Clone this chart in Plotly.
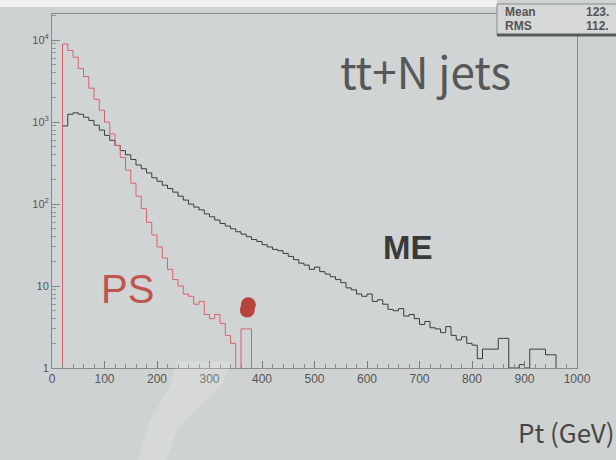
import plotly.graph_objects as go

# ---------------- data ----------------
bin_edges = list(range(0, 1010, 10))  # 10 GeV bins, 0..1000

me_counts = [
    0, 0, 900, 1250, 1300, 1250, 1150, 1050, 920, 800,
    690, 600, 520, 450, 400, 350, 300, 270, 240, 210,
    190, 170, 155, 140, 125, 112, 100, 92, 85, 76,
    70, 64, 58, 54, 50, 46, 43, 40, 37, 35,
    32, 30, 28, 27, 25, 23, 21, 19, 18, 16,
    17, 15, 14, 13, 12, 11, 9.5, 9, 8, 7.5,
    8, 6.5, 6.8, 6, 5.2, 5, 5.3, 4.3, 4.5, 4,
    3.4, 3.7, 3.1, 3.0, 2.7, 3.2, 2.5, 2.2, 2.4, 2.0,
    1.9, 1.3, 1.7, 1.7, 1.7, 2.3, 2.3, 1.0, 1.0, 1.1,
    1.0, 1.7, 1.7, 1.7, 1.45, 1.45, 0, 0, 0, 0,
]

ps_counts = [
    0, 0, 9000, 7500, 6200, 4500, 3600, 2600, 1900, 1400,
    1000, 720, 520, 370, 260, 180, 125, 88, 60, 42,
    30, 22, 16, 12, 10, 8, 7.5, 6, 6.5, 4.5,
    4, 4.5, 3.5, 2.5, 2, 0, 3, 3, 0, 0,
    0, 0, 0, 0, 0, 0, 0, 0, 0, 0,
    0, 0, 0, 0, 0, 0, 0, 0, 0, 0,
    0, 0, 0, 0, 0, 0, 0, 0, 0, 0,
    0, 0, 0, 0, 0, 0, 0, 0, 0, 0,
    0, 0, 0, 0, 0, 0, 0, 0, 0, 0,
    0, 0, 0, 0, 0, 0, 0, 0, 0, 0,
]

x_tick_vals = [0, 100, 200, 300, 400, 500, 600, 700, 800, 900, 1000]
x_tick_text = ["0", "100", "200", "300", "400", "500", "600", "700", "800", "900", "1000"]
y_tick_vals = [1, 10, 100, 1000, 10000]
y_tick_text = ["1", "10", "10<sup>2</sup>", "10<sup>3</sup>", "10<sup>4</sup>"]

blob_pt = [374, 372]
blob_val = [5.9, 5.1]

# ---------------- styling ----------------
BG = "#cfd2d2"
FLOOR = 1e-3  # empty bins drawn down to the frame bottom

L, R, T, B = 52, 577, 14, 368  # plot-area pixel frame


def px(xp):
    return (xp - L) / (R - L)


def py(yp):
    return (B - yp) / (B - T)


def step_y(counts):
    vals = [c if c > 0 else FLOOR for c in counts]
    return vals + [vals[-1]]


fig = go.Figure()

fig.add_trace(go.Scatter(
    x=bin_edges, y=step_y(me_counts), mode="lines", line_shape="hv",
    line=dict(color="#3c3c3c", width=1), showlegend=False, hoverinfo="skip"))

fig.add_trace(go.Scatter(
    x=bin_edges, y=step_y(ps_counts), mode="lines", line_shape="hv",
    line=dict(color="#d9626a", width=1), showlegend=False, hoverinfo="skip"))

fig.add_trace(go.Scatter(
    x=blob_pt, y=blob_val, mode="markers",
    marker=dict(color="#b8433a", size=15, symbol="circle", line=dict(width=0)),
    showlegend=False, hoverinfo="skip"))

fig.update_layout(
    width=616, height=460,
    margin=dict(l=L, r=616 - R, t=T, b=460 - B),
    paper_bgcolor=BG, plot_bgcolor="#d1d4d4",
    font=dict(family="Liberation Sans, Arial, sans-serif", color="#4a4a4a"),
)

fig.update_xaxes(
    range=[0, 1000], tickvals=x_tick_vals, ticktext=x_tick_text,
    ticks="inside", ticklen=7, tickcolor="#7a7a7a", tickwidth=1,
    minor=dict(ticks="inside", ticklen=4, dtick=20, tickcolor="#8a8a8a"),
    showgrid=False, zeroline=False,
    showline=True, linecolor="#8a8a8a", linewidth=1, mirror=True,
    tickfont=dict(size=12, color="#555555", family="Liberation Sans, Arial"),
)

fig.update_yaxes(
    type="log", range=[0, 4.32], tickvals=y_tick_vals, ticktext=y_tick_text,
    ticks="inside", ticklen=8, tickcolor="#7a8a8a", tickwidth=1,
    minor=dict(ticks="inside", ticklen=4, tickcolor="#8a9a9a", dtick="D1"),
    showgrid=False, zeroline=False,
    showline=True, linecolor="#8a8a8a", linewidth=1, mirror=True,
    tickfont=dict(size=11, color="#555555", family="Liberation Sans, Arial"),
)

# white strip on the top of the photo
fig.add_shape(type="rect", xref="paper", yref="paper",
              x0=-0.2, x1=px(497), y0=py(7), y1=1.2,
              fillcolor="#f2f2f2", line=dict(width=0), layer="above")

# faint glare streak near the x axis
glare = [(176, 362), (232, 362), (222, 385), (178, 428), (166, 460),
         (138, 460), (150, 420), (170, 386)]
path = "M " + " L ".join(f"{px(a):.4f},{py(b):.4f}" for a, b in glare) + " Z"
fig.add_shape(type="path", xref="paper", yref="paper", path=path,
              fillcolor="rgba(250,246,246,0.2)", line=dict(width=0), layer="above")

# stats box (Mean / RMS)
fig.add_shape(type="rect", xref="paper", yref="paper",
              x0=px(497), x1=1.2, y0=py(35), y1=py(4),
              fillcolor="#d6d8d8", line=dict(color="#8a8a8a", width=1), layer="above")
fig.add_shape(type="line", xref="paper", yref="paper",
              x0=px(497), x1=1.2, y0=py(35), y1=py(35),
              line=dict(color="#5a5a5a", width=3), layer="above")

box_font = dict(size=12, color="#555555", family="Liberation Sans, Arial")
for label, val, ypos in [("<b>Mean</b>", "<b>123.</b>", 12), ("<b>RMS</b>", "<b>112.</b>", 26)]:
    fig.add_annotation(text=label, xref="paper", yref="paper",
                       x=px(503), y=py(ypos),
                       xanchor="left", yanchor="middle", showarrow=False, font=box_font)
    fig.add_annotation(text=val, xref="paper", yref="paper",
                       x=px(584), y=py(ypos),
                       xanchor="left", yanchor="middle", showarrow=False, font=box_font)

fig.add_annotation(text="tt+N jets", xref="paper", yref="paper",
                   x=px(425), y=py(70),
                   xanchor="center", yanchor="middle", showarrow=False,
                   font=dict(size=44, color="#575757", family="Noto Sans CJK JP, Noto Sans, sans-serif"))

fig.add_annotation(text="<b>ME</b>", xref="paper", yref="paper",
                   x=px(408), y=py(247),
                   xanchor="center", yanchor="middle", showarrow=False,
                   font=dict(size=33, color="#3a3a3a", family="Liberation Sans, Arial"))

fig.add_annotation(text="PS", xref="paper", yref="paper",
                   x=px(127), y=py(289),
                   xanchor="center", yanchor="middle", showarrow=False,
                   font=dict(size=40, color="#c0554d", family="Liberation Sans, Arial"))

fig.add_annotation(text="Pt (GeV)", xref="paper", yref="paper",
                   x=px(616), y=py(431),
                   xanchor="right", yanchor="middle", showarrow=False,
                   font=dict(size=26, color="#474747", family="Noto Sans CJK JP, Noto Sans, sans-serif"))

fig.write_html("out.html")
